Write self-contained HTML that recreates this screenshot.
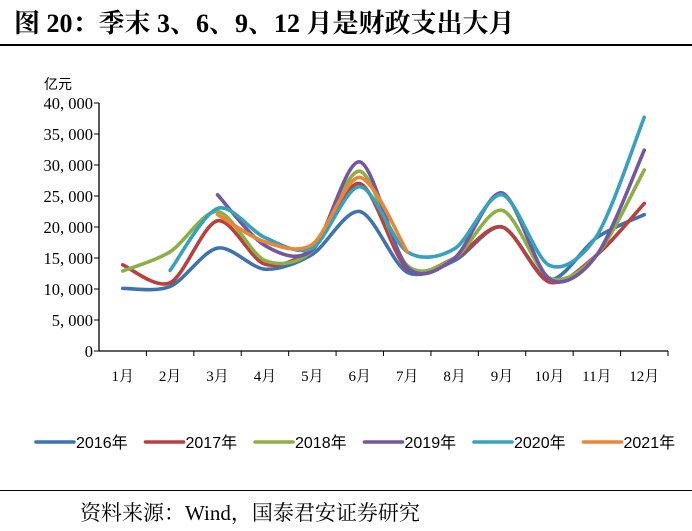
<!DOCTYPE html>
<html><head><meta charset="utf-8"><style>
body{margin:0;background:#fff;width:692px;height:531px;overflow:hidden;font-family:"Liberation Serif","Noto Serif CJK SC",serif;}
</style></head><body>
<div style="position:absolute;left:14px;top:3px;font-size:26px;font-weight:bold;font-family:'Liberation Serif','Noto Serif CJK SC',serif;">图 20：季末 3、6、9、12 月是财政支出大月</div>
<div style="position:absolute;left:0;top:44px;width:692px;height:2px;background:#000"></div>
<svg id="c" width="692" height="531" style="position:absolute;left:0;top:0"></svg>
<div style="position:absolute;left:0;top:490px;width:692px;height:1px;background:#000"></div>
<div style="position:absolute;left:80px;top:497px;font-size:21px;">资料来源：Wind，国泰君安证券研究</div>
<script>
const categories=["1月","2月","3月","4月","5月","6月","7月","8月","9月","10月","11月","12月"];
const yTicks=[0,5000,10000,15000,20000,25000,30000,35000,40000];
const yTickLabels=["0","5, 000","10, 000","15, 000","20, 000","25, 000","30, 000","35, 000","40, 000"];
const seriesNames=["2016年","2017年","2018年","2019年","2020年","2021年"];
const seriesColors=["#3f73b0","#b8403d","#8cb045","#7357a0","#36a2bd","#ea8635"];
const s2016=[10100,10400,16600,13200,15600,22500,12700,14600,20000,11500,18300,22000];
const s2017=[13900,11000,21000,14000,16600,27000,13300,15000,20000,11100,15500,23800];
const s2018=[12900,16000,22500,14600,16200,29000,13800,15000,22700,11800,15500,29200];
const s2019=[null,null,25200,17000,16300,30500,13500,15000,25500,11600,15500,32400];
const s2020=[null,13000,23000,18300,16600,26500,16000,16500,25200,13800,18600,37700];
const s2021=[null,null,22000,17600,17200,28000,16000,null,null,null,null,null];
const allSeries=[s2016,s2017,s2018,s2019,s2020,s2021];
const svg=document.getElementById('c');const NS='http://www.w3.org/2000/svg';
const x0=99,x1=668,y0=351,y1=103,ymax=40000;
const xs=i=>x0+(i+0.5)*(x1-x0)/categories.length;
const ys=v=>y0-(v/ymax)*(y0-y1);
function mk(t,a,txt){const e=document.createElementNS(NS,t);for(const k in a)e.setAttribute(k,a[k]);if(txt!=null)e.textContent=txt;svg.appendChild(e);return e;}
let e=mk('text',{x:44,y:89,'font-size':14,'font-family':'Liberation Sans,Noto Sans CJK SC,sans-serif'},'亿元');


yTicks.forEach((v,i)=>{const t=mk('text',{x:93,y:ys(v)+6,'text-anchor':'end','font-size':16.5,'font-family':'Liberation Serif,serif'},yTickLabels[i]);


const l=mk('line',{x1:x0-5,x2:x0,y1:ys(v),y2:ys(v),stroke:'#000','stroke-width':1});

});
e=mk('line',{x1:x0,x2:x0,y1:y1,y2:y0,stroke:'#000','stroke-width':1.3});


e=mk('line',{x1:x0,x2:x1,y1:y0,y2:y0,stroke:'#000','stroke-width':1.3});


categories.forEach((c,i)=>{const tx=x0+(i+1)*(x1-x0)/categories.length;
const l=mk('line',{x1:tx,x2:tx,y1:y0,y2:y0+5,stroke:'#000','stroke-width':1});


const t=mk('text',{x:xs(i),y:381,'text-anchor':'middle','font-size':15,'font-family':'Liberation Serif,Noto Serif CJK SC,serif'},c);

});
function smooth(p){let d='M'+p[0][0]+','+p[0][1];for(let i=0;i<p.length-1;i++){const a=p[i-1]||p[i],b=p[i],c=p[i+1],n=p[i+2]||c;const t=0.3;
d+=' C'+(b[0]+(c[0]-a[0])*t/2)+','+(b[1]+(c[1]-a[1])*t/2)+' '+(c[0]-(n[0]-b[0])*t/2)+','+(c[1]-(n[1]-b[1])*t/2)+' '+c[0]+','+c[1];}return d;}
allSeries.forEach((s,k)=>{const p=[];s.forEach((v,i)=>{if(v!=null)p.push([xs(i),ys(v)]);});
const path=mk('path',{d:smooth(p),fill:'none',stroke:seriesColors[k],'stroke-width':3.6,'stroke-linecap':'round'});

});
seriesNames.forEach((n,k)=>{const lx=36+k*109.5;
const l=mk('line',{x1:lx,x2:lx+38,y1:442,y2:442,stroke:seriesColors[k],'stroke-width':3.6,'stroke-linecap':'round'});


const t=mk('text',{x:lx+40,y:448,'font-size':16,'font-family':'Liberation Sans,Noto Sans CJK SC,sans-serif'},n);

});
</script></body></html>
